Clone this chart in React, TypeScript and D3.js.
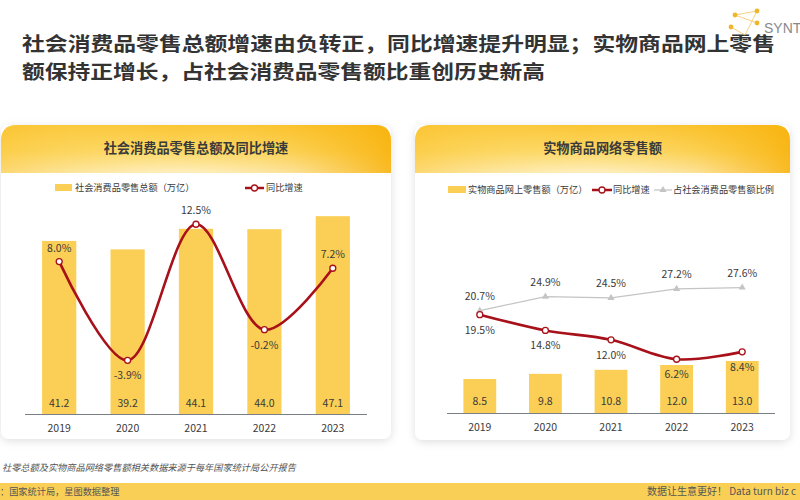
import React from "react";
import * as d3 from "d3";

const years = ["2019", "2020", "2021", "2022", "2023"];
const retailTotal = [41.2, 39.2, 44.1, 44.0, 47.1];
const retailGrowth = [8.0, -3.9, 12.5, -0.2, 7.2];
const onlineSales = [8.5, 9.8, 10.8, 12.0, 13.0];
const onlineGrowth = [19.5, 14.8, 12.0, 6.2, 8.4];
const onlineShare = [20.7, 24.9, 24.5, 27.2, 27.6];
const growthLabelAbove = [true, false, true, false, true];

const titleLines = [
  "社会消费品零售总额增速由负转正，同比增速提升明显；实物商品网上零售",
  "额保持正增长，占社会消费品零售额比重创历史新高",
];
const titleWidths = [753, 523];
const leftTitle = "社会消费品零售总额及同比增速";
const rightTitle = "实物商品网络零售额";
const leftLegend = ["社会消费品零售总额（万亿）", "同比增速"];
const rightLegend = ["实物商品网上零售额（万亿）", "同比增速", "占社会消费品零售额比例"];
const footnote = "社零总额及实物商品网络零售额相关数据来源于每年国家统计局公开报告";
const sourceText = "：国家统计局，星图数据整理";
const sloganText = "数据让生意更好！ Data turn biz c";

const FONT = "'Noto Sans CJK SC', 'Noto Sans', sans-serif";
const BAR = "#fbcf55";
const RED = "#a8101a";
const GRAY = "#c4c4c4";
const TXT = "#3a3a3a";

function Card({ x, y, w, h, title, id }: { x: number; y: number; w: number; h: number; title: string; id: string }) {
  const r = 16;
  const hh = 48;
  const headerPath = `M${x},${y + hh} L${x},${y + r} Q${x},${y} ${x + r},${y} L${x + w - r},${y} Q${x + w},${y} ${x + w},${y + r} L${x + w},${y + hh} Z`;
  return (
    <g>
      <rect x={x} y={y} width={w} height={h} rx={8} fill="#fff" filter="url(#shadow)" />
      <path d={headerPath} fill={`url(#hv-${id})`} />
      <path d={headerPath} fill={`url(#hh-${id})`} />
      <text x={x + w / 2} y={y + 28} textAnchor="middle" fontFamily={FONT} fontWeight={700} fontSize={13.2} fill={TXT}>
        {title}
      </text>
    </g>
  );
}

export default function App() {
  // Left chart scales
  const xL = d3.scaleBand<string>().domain(years).range([25, 367]).paddingInner(0.5).paddingOuter(0.25);
  const yLBar = d3.scaleLinear().domain([0, 50]).range([414, 204]);
  const yLLine = d3.scaleLinear().domain([-5, 15]).range([369.5, 203.5]);
  const cxL = (d: string) => (xL(d) as number) + xL.bandwidth() / 2;
  const lineL = d3
    .line<number>()
    .x((_, i) => cxL(years[i]))
    .y((v) => yLLine(v))
    .curve(d3.curveCatmullRom.alpha(0.5));

  // Right chart scales
  const xR = d3.scaleBand<string>().domain(years).range([447, 775]).paddingInner(0.5).paddingOuter(0.25);
  const yRBar = d3.scaleLinear().domain([0, 15]).range([413, 353]);
  const yRLine = d3.scaleLinear().domain([0, 30]).range([380, 279.5]);
  const cxR = (d: string) => (xR(d) as number) + xR.bandwidth() / 2;
  const lineRGrowth = d3
    .line<number>()
    .x((_, i) => cxR(years[i]))
    .y((v) => yRLine(v))
    .curve(d3.curveCatmullRom.alpha(0.5));
  const lineRShare = d3
    .line<number>()
    .x((_, i) => cxR(years[i]))
    .y((v) => yRLine(v));

  const tri = d3.symbol().type(d3.symbolTriangle).size(22)();

  return (
    <svg width={800} height={500} style={{ position: "absolute", left: 0, top: 0 }}>
      <defs>
        <filter id="shadow" x="-10%" y="-10%" width="120%" height="125%">
          <feDropShadow dx="0" dy="2" stdDeviation="4" floodColor="#000" floodOpacity="0.13" />
        </filter>
        {["l", "r"].map((id) => (
          <React.Fragment key={id}>
            <linearGradient id={`hv-${id}`} x1="0" y1="0" x2="0" y2="1">
              <stop offset="0" stopColor="#fbc534" />
              <stop offset="0.55" stopColor="#fcd865" />
              <stop offset="1" stopColor="#feefc0" />
            </linearGradient>
            <linearGradient id={`hh-${id}`} x1="0" y1="0" x2="1" y2="0">
              <stop offset="0" stopColor="#fbc534" stopOpacity="0.55" />
              <stop offset="0.45" stopColor="#fde07a" stopOpacity="0" />
              <stop offset="0.75" stopColor="#f9b715" stopOpacity="0.25" />
              <stop offset="1" stopColor="#f8b10a" stopOpacity="0.85" />
            </linearGradient>
          </React.Fragment>
        ))}
      </defs>
      <rect x={0} y={0} width={800} height={500} fill="#fff" />

      {/* Title */}
      {titleLines.map((t, i) => (
        <text
          key={i}
          x={22}
          y={51 + i * 28}
          fontFamily={FONT}
          fontWeight={700}
          fontSize={19}
          textLength={titleWidths[i]}
          lengthAdjust="spacingAndGlyphs"
          fill="#333"
        >
          {t}
        </text>
      ))}

      {/* Logo */}
      <g stroke="#f3c55a" strokeWidth={0.8} fill="none">
        <line x1={735} y1={15} x2={757} y2={11} />
        <line x1={735} y1={15} x2={757} y2={23} />
        <line x1={757} y1={11} x2={745} y2={35} />
        <line x1={731} y1={27} x2={745} y2={35} />
      </g>
      {[
        [735, 15],
        [757, 11],
        [731, 27],
        [757, 23],
      ].map(([cx, cy], i) => (
        <circle key={i} cx={cx} cy={cy} r={2.4} fill="#f0b52a" />
      ))}
      <text x={764} y={33} fontFamily="'Liberation Sans', sans-serif" fontSize={14} fill="#8a8a8a">
        SYNT
      </text>

      {/* Cards */}
      <Card x={1} y={125} w={390} h={314} title={leftTitle} id="l" />
      <Card x={415} y={125} w={375} h={315} title={rightTitle} id="r" />

      {/* Left legend */}
      <rect x={55} y={184} width={17} height={7} fill={BAR} />
      <text x={75} y={191} fontFamily={FONT} fontSize={9.2} fill={TXT}>
        {leftLegend[0]}
      </text>
      <line x1={245} y1={188} x2={264} y2={188} stroke={RED} strokeWidth={2.5} />
      <circle cx={254.5} cy={188} r={3} fill="#fff" stroke={RED} strokeWidth={1.3} />
      <text x={266} y={191} fontFamily={FONT} fontSize={9.2} fill={TXT}>
        {leftLegend[1]}
      </text>

      {/* Left bars */}
      {years.map((yr, i) => (
        <g key={yr}>
          <rect
            x={xL(yr)}
            y={yLBar(retailTotal[i])}
            width={xL.bandwidth()}
            height={yLBar(0) - yLBar(retailTotal[i])}
            fill={BAR}
          />
          <text x={cxL(yr)} y={407} textAnchor="middle" fontFamily={FONT} fontSize={10.5} fill={TXT}>
            {retailTotal[i].toFixed(1)}
          </text>
          <text x={cxL(yr)} y={432} textAnchor="middle" fontFamily={FONT} fontSize={10.5} fill={TXT}>
            {yr}
          </text>
        </g>
      ))}
      <line x1={25} x2={367} y1={414.5} y2={414.5} stroke="#7a7f87" strokeWidth={1} />

      {/* Left line */}
      <path d={lineL(retailGrowth) || ""} fill="none" stroke={RED} strokeWidth={2.6} />
      {years.map((yr, i) => (
        <g key={yr}>
          <circle cx={cxL(yr)} cy={yLLine(retailGrowth[i])} r={3} fill="#fff" stroke={RED} strokeWidth={1.3} />
          <text
            x={cxL(yr)}
            y={yLLine(retailGrowth[i]) + (growthLabelAbove[i] ? -10 : 19)}
            textAnchor="middle"
            fontFamily={FONT}
            fontSize={10.5}
            fill={TXT}
          >
            {retailGrowth[i].toFixed(1)}%
          </text>
        </g>
      ))}

      {/* Right legend */}
      <rect x={448} y={186} width={18} height={7} fill={BAR} />
      <text x={468} y={193} fontFamily={FONT} fontSize={9.2} fill={TXT}>
        {rightLegend[0]}
      </text>
      <line x1={592} y1={190} x2={612} y2={190} stroke={RED} strokeWidth={2.5} />
      <circle cx={602} cy={190} r={3} fill="#fff" stroke={RED} strokeWidth={1.3} />
      <text x={613} y={193} fontFamily={FONT} fontSize={9.2} fill={TXT}>
        {rightLegend[1]}
      </text>
      <line x1={654} y1={190} x2={672} y2={190} stroke={GRAY} strokeWidth={1.2} />
      <path d={tri || ""} transform="translate(663,190)" fill={GRAY} />
      <text x={673} y={193} fontFamily={FONT} fontSize={9.2} fill={TXT}>
        {rightLegend[2]}
      </text>

      {/* Right bars */}
      {years.map((yr, i) => (
        <g key={yr}>
          <rect
            x={xR(yr)}
            y={yRBar(onlineSales[i])}
            width={xR.bandwidth()}
            height={yRBar(0) - yRBar(onlineSales[i])}
            fill={BAR}
          />
          <text x={cxR(yr)} y={405} textAnchor="middle" fontFamily={FONT} fontSize={10.5} fill={TXT}>
            {onlineSales[i].toFixed(1)}
          </text>
          <text x={cxR(yr)} y={431} textAnchor="middle" fontFamily={FONT} fontSize={10.5} fill={TXT}>
            {yr}
          </text>
        </g>
      ))}
      <line x1={447} x2={775} y1={413.5} y2={413.5} stroke="#7a7f87" strokeWidth={1} />

      {/* Right share line */}
      <path d={lineRShare(onlineShare) || ""} fill="none" stroke={GRAY} strokeWidth={1.3} />
      {years.map((yr, i) => (
        <g key={yr}>
          <path d={tri || ""} transform={`translate(${cxR(yr)},${yRLine(onlineShare[i])})`} fill={GRAY} />
          <text
            x={cxR(yr)}
            y={yRLine(onlineShare[i]) - 11}
            textAnchor="middle"
            fontFamily={FONT}
            fontSize={10.5}
            fill={TXT}
          >
            {onlineShare[i].toFixed(1)}%
          </text>
        </g>
      ))}

      {/* Right growth line */}
      <path d={lineRGrowth(onlineGrowth) || ""} fill="none" stroke={RED} strokeWidth={2.6} />
      {years.map((yr, i) => (
        <g key={yr}>
          <circle cx={cxR(yr)} cy={yRLine(onlineGrowth[i])} r={3} fill="#fff" stroke={RED} strokeWidth={1.3} />
          <text
            x={cxR(yr)}
            y={yRLine(onlineGrowth[i]) + 19}
            textAnchor="middle"
            fontFamily={FONT}
            fontSize={10.5}
            fill={TXT}
          >
            {onlineGrowth[i].toFixed(1)}%
          </text>
        </g>
      ))}

      {/* Footnote */}
      <text x={2} y={471} fontFamily={FONT} fontSize={9.2} fontStyle="italic" fill="#555">
        {footnote}
      </text>

      {/* Bottom strip */}
      <rect x={0} y={483} width={800} height={17} fill="#f9cf55" />
      <text x={0} y={495} fontFamily={FONT} fontSize={9.2} fill="#555">
        {sourceText}
      </text>
      <text x={647} y={495} fontFamily={FONT} fontSize={10} fill="#555">
        {sloganText}
      </text>
    </svg>
  );
}
